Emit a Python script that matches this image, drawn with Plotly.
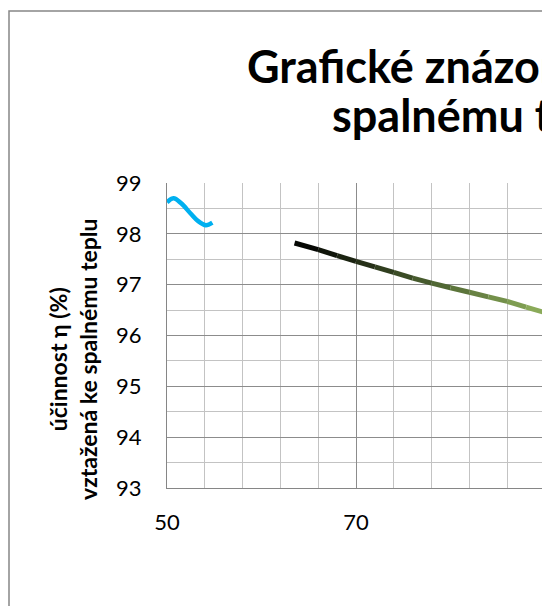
import plotly.graph_objects as go

# values
modra_x = [50.0, 50.7, 51.5, 52.5, 53.3, 54.1, 54.8]
modra_y = [98.62, 98.70, 98.60, 98.40, 98.25, 98.17, 98.22]

zelena_x = [63.5, 66, 68, 70, 72, 74, 76, 78, 80, 82, 84, 86, 88, 90, 92]
zelena_y = [97.82, 97.69, 97.57, 97.46, 97.35, 97.24, 97.13, 97.03,
            96.94, 96.85, 96.76, 96.67, 96.56, 96.45, 96.35]

y_ticks = [93, 94, 95, 96, 97, 98, 99]
x_ticks = [50, 70, 90]

titulek_1 = "Grafické znázornění účinnosti"
titulek_2 = "spalnému teplu"
osa_y = "účinnost η (%)<br>vztažená ke spalnému teplu"

# the page body has an 8px margin, so the figure is a bit smaller than the window
OFF = 8
W, H = 550 - OFF, 606 - OFF
L, R, T, B = 167 - OFF, 550 - OFF, 183 - OFF, 488 - OFF  # plot area


def paper_x(p):
    # p = pixel in the window
    return (p - OFF - L) / (R - L)


def paper_y(p):
    return (B - (p - OFF)) / (B - T)


def mix(c1, c2, t):
    return "rgb({},{},{})".format(*[round(a + (b - a) * t) for a, b in zip(c1, c2)])


fig = go.Figure()

fig.add_trace(go.Scatter(
    x=modra_x, y=modra_y, mode="lines",
    line=dict(color="#00B0F0", width=4.5, shape="spline"),
    showlegend=False,
))

# gradient black -> olive green, one segment per pair of points
start, mid, end = (0, 0, 0), (75, 97, 48), (155, 190, 100)
n = len(zelena_x) - 1
for i in range(n):
    t = (i + 0.5) / n
    col = mix(start, mid, t / 0.5) if t < 0.5 else mix(mid, end, (t - 0.5) / 0.5)
    fig.add_trace(go.Scatter(
        x=zelena_x[i:i + 2], y=zelena_y[i:i + 2], mode="lines",
        line=dict(color=col, width=5),
        showlegend=False,
    ))

fig.update_xaxes(
    range=[50, 50 + (R - L) / 9.45], tickvals=x_ticks,
    showgrid=True, gridcolor="#8c8c8c", gridwidth=1,
    minor=dict(dtick=4, tick0=50, showgrid=True, gridcolor="#c3c3c3", gridwidth=1),
    showline=True, linecolor="#868686", linewidth=1,
    ticks="", zeroline=False,
    tickfont=dict(family="Lato", size=22, color="#000"),
    ticklabelstandoff=15,
)
fig.update_yaxes(
    range=[93, 99], tickvals=y_ticks,
    showgrid=True, gridcolor="#8c8c8c", gridwidth=1,
    minor=dict(dtick=0.5, showgrid=True, gridcolor="#c3c3c3", gridwidth=1),
    showline=True, linecolor="#868686", linewidth=1,
    ticks="", zeroline=False,
    tickfont=dict(family="Lato", size=22, color="#000"),
    ticklabelstandoff=20,
)

fig.add_annotation(
    text="<b>" + titulek_1 + "</b>", xref="paper", yref="paper",
    x=paper_x(245), y=paper_y(66), xanchor="left", yanchor="middle",
    showarrow=False, font=dict(family="Lato", size=45, color="#000"),
)
fig.add_annotation(
    text="<b>" + titulek_2 + "</b>", xref="paper", yref="paper",
    x=paper_x(330), y=paper_y(115), xanchor="left", yanchor="middle",
    showarrow=False, font=dict(family="Lato", size=45, color="#000"),
)
fig.add_annotation(
    text="<b>" + osa_y + "</b>", xref="paper", yref="paper",
    x=paper_x(73), y=paper_y(359), xanchor="center", yanchor="middle",
    textangle=-90, showarrow=False,
    font=dict(family="Lato", size=23, color="#000"),
)

# chart frame
fig.add_shape(
    type="rect", xref="paper", yref="paper",
    x0=paper_x(9), x1=paper_x(700), y0=paper_y(800), y1=paper_y(11),
    line=dict(color="#868686", width=1.5), layer="below",
)

fig.update_layout(
    width=W, height=H,
    margin=dict(l=L, r=W - R, t=T, b=H - B, pad=0),
    paper_bgcolor="white", plot_bgcolor="white",
    showlegend=False,
)

fig.write_html("out.html")
